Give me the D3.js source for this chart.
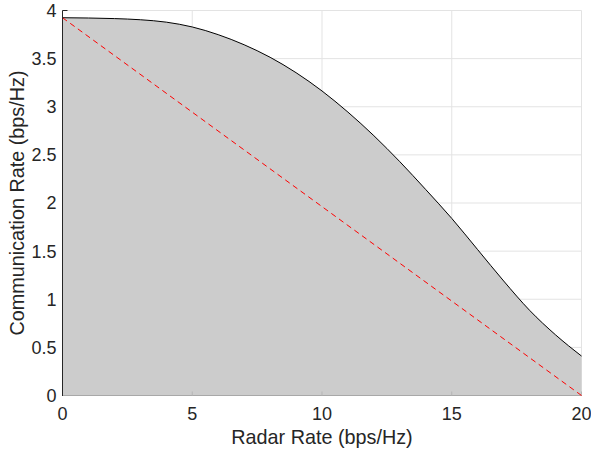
<!DOCTYPE html>
<html><head><meta charset="utf-8">
<script src="https://cdn.jsdelivr.net/npm/d3@7"></script>
<style>body{margin:0;background:#fff}svg{display:block}text{font-family:"Liberation Sans",Arial,Helvetica,sans-serif;fill:#262626}</style>
</head><body>
<script>
const radarRate = [0,1,2,3,4,5,6,7,8,9,10,11,12,13,14,15,16,17,18,19,20];
const commRate = [3.925,3.922,3.916,3.904,3.879,3.829,3.749,3.644,3.514,3.354,3.164,2.944,2.699,2.429,2.139,1.84,1.515,1.19,0.885,0.63,0.41];
const linePts = [[0,3.925],[20,0]];
const xTicks = [0,5,10,15,20];
const yTicks = [0,0.5,1,1.5,2,2.5,3,3.5,4];
const xLabel = "Radar Rate (bps/Hz)";
const yLabel = "Communication Rate (bps/Hz)";

const W=591,H=455;
const svg=d3.select("body").append("svg").attr("width",W).attr("height",H);
const x=d3.scaleLinear().domain([0,20]).range([62.5,581.5]);
const y=d3.scaleLinear().domain([0,4]).range([395.5,10.5]);

// grid
const g=svg.append("g");
g.selectAll("line.gx").data(xTicks).join("line")
 .attr("x1",d=>x(d)).attr("x2",d=>x(d)).attr("y1",y(0)).attr("y2",y(4))
 .attr("stroke","#e3e3e3").attr("stroke-width",1);
g.selectAll("line.gy").data(yTicks).join("line")
 .attr("y1",d=>y(d)).attr("y2",d=>y(d)).attr("x1",x(0)).attr("x2",x(20))
 .attr("stroke","#e3e3e3").attr("stroke-width",1);

// y ticks inward (visible above fill)
svg.selectAll("line.ty").data(yTicks).join("line")
 .attr("x1",x(0)).attr("x2",x(0)+5).attr("y1",d=>y(d)).attr("y2",d=>y(d))
 .attr("stroke","#262626");

const data=radarRate.map((r,i)=>[r,commRate[i]]);
const area=d3.area().x(d=>x(d[0])).y0(y(0)).y1(d=>y(d[1])).curve(d3.curveMonotoneX);
svg.append("path").datum(data).attr("d",area).attr("fill","#cccccc");

// bottom axis line (under fill look)
svg.append("line").attr("x1",x(0)).attr("x2",x(20)).attr("y1",y(0)).attr("y2",y(0)).attr("stroke","#a8a8a8");
svg.selectAll("line.tx").data(xTicks).join("line")
 .attr("x1",d=>x(d)).attr("x2",d=>x(d)).attr("y1",y(0)).attr("y2",y(0)-4)
 .attr("stroke","#b5b5b5");

const line=d3.line().x(d=>x(d[0])).y(d=>y(d[1])).curve(d3.curveMonotoneX);
svg.append("path").datum(data).attr("d",line).attr("fill","none").attr("stroke","#000").attr("stroke-width",1);

svg.append("path").datum(linePts).attr("d",d3.line().x(d=>x(d[0])).y(d=>y(d[1])))
 .attr("fill","none").attr("stroke","#ff0000").attr("stroke-width",1).attr("stroke-dasharray","5.5,4");

// left axis
svg.append("line").attr("x1",x(0)).attr("x2",x(0)).attr("y1",y(0)+0.5).attr("y2",y(4)).attr("stroke","#262626");

// tick labels
svg.selectAll("text.yl").data(yTicks).join("text")
 .attr("x",x(0)-6).attr("y",d=>y(d)).attr("dy","0.36em").attr("text-anchor","end")
 .style("font-size","18px").text(d=>d3.format("")(d));
svg.selectAll("text.xl").data(xTicks).join("text")
 .attr("x",d=>x(d)).attr("y",y(0)+24).attr("text-anchor","middle")
 .style("font-size","18px").text(d=>d);

svg.append("text").attr("x",(x(0)+x(20))/2).attr("y",444).attr("text-anchor","middle")
 .style("font-size","19.8px").text(xLabel);
svg.append("text").attr("transform",`translate(24,${(y(0)+y(4))/2}) rotate(-90)`).attr("text-anchor","middle")
 .style("font-size","19.8px").text(yLabel);
</script>
</body></html>
